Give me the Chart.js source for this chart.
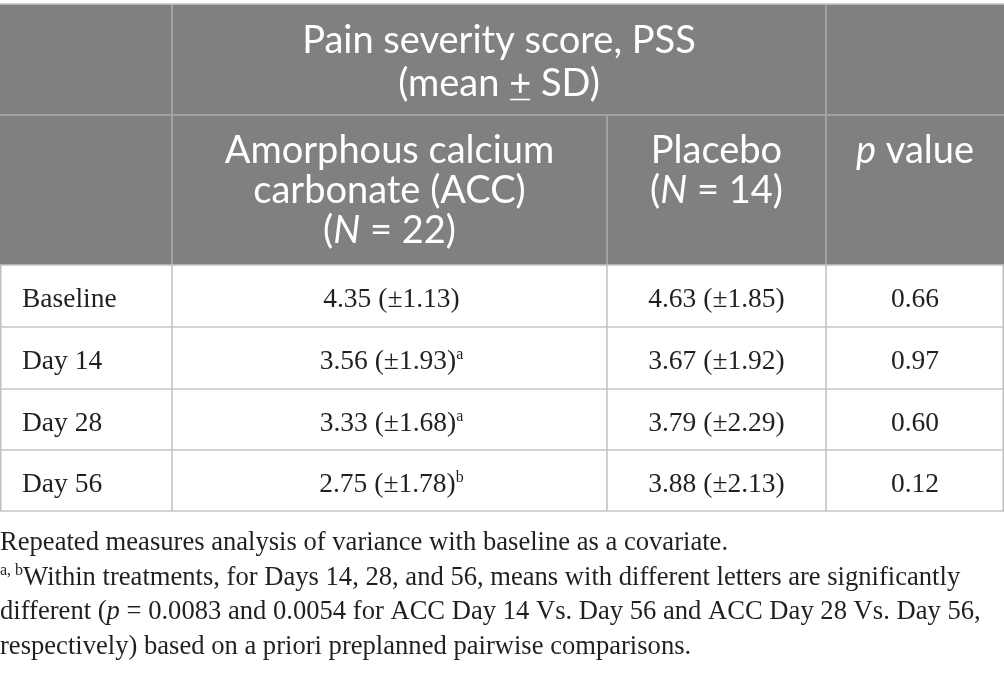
<!DOCTYPE html>
<html>
<head>
<meta charset="utf-8">
<script src="https://cdn.jsdelivr.net/npm/chart.js@4.4.1/dist/chart.umd.min.js"></script>
<style>
  html, body { margin: 0; padding: 0; background: #fff; }
  #wrap { width: 1004px; height: 676px; }
</style>
</head>
<body>
<div id="wrap"><canvas id="pssTable" width="1004" height="676"></canvas></div>
<script>
// ==========================================
// DATA (read off the table)
// ==========================================
const timepoints = ["Baseline", "Day 14", "Day 28", "Day 56"];
const accMean = [4.35, 3.56, 3.33, 2.75];
const accSD = [1.13, 1.93, 1.68, 1.78];
const accLetter = ["", "a", "a", "b"];
const placeboMean = [4.63, 3.67, 3.79, 3.88];
const placeboSD = [1.85, 1.92, 2.29, 2.13];
const pValues = [0.66, 0.97, 0.60, 0.12];

// ==========================================
// LAYOUT (pixel grid of the table, in scale units)
// ==========================================
const colEdges = [0, 172, 607, 826, 1004];
const rowEdges = [4, 115, 265, 327, 389, 450, 511];
const footBase = 550;
const footStep = 34.5;

const HEAD_FONT = "Lato, 'Open Sans', sans-serif";
const BODY_FONT = "'Liberation Serif', 'DejaVu Serif', serif";

// draw a list of text runs side by side; align 'center' or 'left'
function drawRuns(ctx, runs, x, base, align, color) {
  let total = 0;
  runs.forEach((r) => {
    ctx.font = r.font;
    r.w = ctx.measureText(r.t).width;
    total += r.w;
  });
  let cur = align === "center" ? x - total / 2 : x;
  ctx.fillStyle = color;
  ctx.strokeStyle = color;
  ctx.textBaseline = "alphabetic";
  ctx.textAlign = "left";
  runs.forEach((r) => {
    ctx.font = r.font;
    ctx.fillText(r.t, cur, base - (r.rise || 0));
    if (r.under) {
      ctx.lineWidth = 1.6;
      ctx.beginPath();
      ctx.moveTo(cur + 1, base + 3.5);
      ctx.lineTo(cur + r.w - 1, base + 3.5);
      ctx.stroke();
    }
    cur += r.w;
  });
}

const tablePlugin = {
  id: "tablePlugin",
  afterDraw(chart) {
    const { ctx } = chart;
    const sx = chart.scales.x;
    const sy = chart.scales.y;
    const px = (v) => sx.getPixelForValue(v);
    const py = (v) => sy.getPixelForValue(v);
    ctx.save();

    // header background
    ctx.fillStyle = "#808080";
    ctx.fillRect(px(colEdges[0]), py(rowEdges[0]), px(colEdges[4]) - px(colEdges[0]), py(rowEdges[2]) - py(rowEdges[0]));

    const line = (x1, y1, x2, y2) => {
      ctx.beginPath();
      ctx.moveTo(px(x1), py(y1));
      ctx.lineTo(px(x2), py(y2));
      ctx.stroke();
    };

    // header grid
    ctx.strokeStyle = "#a2a2a2";
    ctx.lineWidth = 2;
    line(colEdges[0], rowEdges[1], colEdges[4], rowEdges[1]);
    line(colEdges[1], rowEdges[0], colEdges[1], rowEdges[2]);
    line(colEdges[3], rowEdges[0], colEdges[3], rowEdges[2]);
    line(colEdges[2], rowEdges[1], colEdges[2], rowEdges[2]);

    // body grid
    ctx.strokeStyle = "#c4c4c4";
    ctx.lineWidth = 1.6;
    line(colEdges[0], rowEdges[0], colEdges[4], rowEdges[0]);
    for (let i = 2; i < rowEdges.length; i++) {
      line(colEdges[0], rowEdges[i], colEdges[4], rowEdges[i]);
    }
    [0.8, colEdges[1], colEdges[2], colEdges[3], colEdges[4] - 0.8].forEach((cx) => {
      line(cx, rowEdges[2], cx, rowEdges[6]);
    });

    // header text
    const hf = (st) => `${st || "normal"} 400 38px ${HEAD_FONT}`;
    const white = "#ffffff";
    const midAB = px((colEdges[1] + colEdges[3]) / 2);
    drawRuns(ctx, [{ t: "Pain severity score, PSS", font: hf() }], midAB, py(53), "center", white);
    drawRuns(ctx, [
      { t: "(mean ", font: hf() },
      { t: "+", font: hf(), under: true },
      { t: " SD)", font: hf() },
    ], midAB, py(96), "center", white);

    const midA = px((colEdges[1] + colEdges[2]) / 2);
    drawRuns(ctx, [{ t: "Amorphous calcium", font: hf() }], midA, py(163), "center", white);
    drawRuns(ctx, [{ t: "carbonate (ACC)", font: hf() }], midA, py(203), "center", white);
    drawRuns(ctx, [
      { t: "(", font: hf() },
      { t: "N", font: hf("italic") },
      { t: " = 22)", font: hf() },
    ], midA, py(243), "center", white);

    const midB = px((colEdges[2] + colEdges[3]) / 2);
    drawRuns(ctx, [{ t: "Placebo", font: hf() }], midB, py(163), "center", white);
    drawRuns(ctx, [
      { t: "(", font: hf() },
      { t: "N", font: hf("italic") },
      { t: " = 14)", font: hf() },
    ], midB, py(203), "center", white);

    const midP = px((colEdges[3] + colEdges[4]) / 2);
    drawRuns(ctx, [
      { t: "p", font: hf("italic") },
      { t: " value", font: hf() },
    ], midP, py(163), "center", white);

    // body text
    const bf = `27.5px ${BODY_FONT}`;
    const sf = `16px ${BODY_FONT}`;
    const ink = "#231f20";
    timepoints.forEach((tp, i) => {
      const base = py(rowEdges[i + 2] + 42);
      drawRuns(ctx, [{ t: tp, font: bf }], px(22), base, "left", ink);
      const accRuns = [{ t: `${accMean[i].toFixed(2)} (±${accSD[i].toFixed(2)})`, font: bf }];
      if (accLetter[i]) accRuns.push({ t: accLetter[i], font: sf, rise: 10 });
      drawRuns(ctx, accRuns, midA + 2, base, "center", ink);
      drawRuns(ctx, [{ t: `${placeboMean[i].toFixed(2)} (±${placeboSD[i].toFixed(2)})`, font: bf }], midB, base, "center", ink);
      drawRuns(ctx, [{ t: pValues[i].toFixed(2), font: bf }], midP, base, "center", ink);
    });

    // footnotes
    const ff = `26.6px ${BODY_FONT}`;
    const ffi = `italic 26.6px ${BODY_FONT}`;
    const fs = `16px ${BODY_FONT}`;
    const fx = px(0);
    drawRuns(ctx, [{ t: "Repeated measures analysis of variance with baseline as a covariate.", font: ff }], fx, py(footBase), "left", ink);
    drawRuns(ctx, [
      { t: "a, b", font: fs, rise: 10 },
      { t: "Within treatments, for Days 14, 28, and 56, means with different letters are significantly", font: ff },
    ], fx, py(footBase + footStep), "left", ink);
    drawRuns(ctx, [
      { t: "different (", font: ff },
      { t: "p", font: ffi },
      { t: " = 0.0083 and 0.0054 for ACC Day 14 Vs. Day 56 and ACC Day 28 Vs. Day 56,", font: ff },
    ], fx, py(footBase + footStep * 2), "left", ink);
    drawRuns(ctx, [{ t: "respectively) based on a priori preplanned pairwise comparisons.", font: ff }], fx, py(footBase + footStep * 3), "left", ink);

    ctx.restore();
  },
};

document.addEventListener("DOMContentLoaded", () => {
  try {
    if (typeof Chart === "undefined") {
      console.warn("Chart.js not loaded");
      return;
    }
    new Chart(document.getElementById("pssTable"), {
      type: "scatter",
      data: { datasets: [{ data: [], pointRadius: 0 }] },
      options: {
        responsive: false,
        animation: false,
        devicePixelRatio: 1,
        layout: { padding: 0 },
        scales: {
          x: { type: "linear", min: 0, max: 1004, display: false },
          y: { type: "linear", min: 0, max: 676, reverse: true, display: false },
        },
        plugins: { legend: { display: false }, tooltip: { enabled: false } },
      },
      plugins: [tablePlugin],
    });
  } catch (error) {
    console.error("Failed to draw table:", error);
  }
});
</script>
</body>
</html>
